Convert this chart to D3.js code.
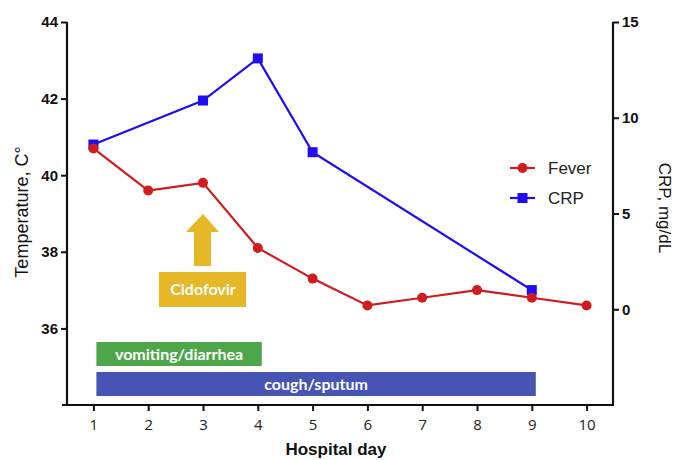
<!DOCTYPE html>
<html>
<head>
<meta charset="utf-8">
<script src="https://cdn.jsdelivr.net/npm/d3@7"></script>
<style>
  html, body { margin: 0; padding: 0; background: #fff; }
  svg { display: block; }
</style>
</head>
<body>
<svg id="chart" width="676" height="460"></svg>
<script>
// ---- data ----
const days = [1, 2, 3, 4, 5, 6, 7, 8, 9, 10];
const fever = [40.7, 39.6, 39.8, 38.1, 37.3, 36.6, 36.8, 37.0, 36.8, 36.6];
const crpDays = [1, 3, 4, 5, 9];
const crp = [8.6, 10.9, 13.1, 8.2, 1.0];
const tempTicks = [36, 38, 40, 42, 44];
const crpTicks = [0, 5, 10, 15];
const dayTicks = [1, 2, 3, 4, 5, 6, 7, 8, 9, 10];
const symptoms = ["vomiting/diarrhea", "cough/sputum"];
const symptomStart = [1, 1];
const symptomEnd = [4, 9];
const symptomColors = ["#4ea64a", "#4655b3"];
const treatment = "Cidofovir";
const treatmentDay = 3;
const seriesNames = ["Fever", "CRP"];
const seriesColors = ["#d01c1f", "#1d0cf5"];

// ---- layout ----
const svg = d3.select("#chart");
const pL = 67, pR = 613, pT = 22, pB = 405;
const SANS = "'Liberation Sans', Arial, Helvetica, sans-serif";

const x = d3.scaleLinear().domain([0.5, 10.5]).range([pL - 1, pR + 1]);
const yL = d3.scaleLinear().domain([34, 44]).range([pB, pT]);
const yR = d3.scaleLinear().domain([-5, 15]).range([pB, pT]);

// ---- axes ----
const gL = svg.append("g").attr("transform", `translate(${pL},0)`)
  .call(d3.axisLeft(yL).tickValues(tempTicks).tickSize(6).tickSizeOuter(0).tickPadding(3));
const gR = svg.append("g").attr("transform", `translate(${pR},0)`)
  .call(d3.axisRight(yR).tickValues(crpTicks).tickSize(6).tickSizeOuter(0).tickPadding(3));
const gB = svg.append("g").attr("transform", `translate(0,${pB})`)
  .call(d3.axisBottom(x).tickValues(dayTicks).tickSize(6).tickSizeOuter(0).tickPadding(8));

[gL, gR].forEach(g => {
  g.attr("font-family", SANS).attr("font-size", 15).attr("font-weight", 700);
  g.select(".domain").attr("d", `M0,${pT}V${pB}`);
  g.selectAll("text").attr("fill", "#111");
});
gB.attr("font-family", "'Open Sans', 'Noto Sans', sans-serif").attr("font-size", 15);
gB.select(".domain").attr("d", `M${pL - 5},0H${pR + 1}`);
gB.selectAll("text").attr("fill", "#222");
svg.selectAll(".domain").attr("stroke", "#111").attr("stroke-width", 2.2);
svg.selectAll(".tick line").attr("stroke", "#111").attr("stroke-width", 2);

// axis titles
svg.append("text")
  .attr("transform", `translate(28,212) rotate(-90)`)
  .attr("text-anchor", "middle")
  .attr("font-family", SANS).attr("font-size", 18)
  .attr("fill", "#111")
  .text("Temperature, C°");

svg.append("text")
  .attr("transform", `translate(659,208) rotate(90)`)
  .attr("text-anchor", "middle")
  .attr("font-family", SANS).attr("font-size", 17)
  .attr("fill", "#111")
  .text("CRP, mg/dL");

svg.append("text")
  .attr("x", (pL + pR) / 2 - 4)
  .attr("y", 455)
  .attr("text-anchor", "middle")
  .attr("font-family", SANS).attr("font-size", 17).attr("font-weight", 700)
  .attr("fill", "#111")
  .text("Hospital day");

// ---- symptom bars ----
const barTops = [342, 372];
symptoms.forEach((s, i) => {
  const x0 = x(symptomStart[i]) + 3;
  const x1 = x(symptomEnd[i]) + 4;
  svg.append("rect")
    .attr("x", x0).attr("y", barTops[i])
    .attr("width", x1 - x0).attr("height", 24)
    .attr("fill", symptomColors[i]);
  svg.append("text")
    .attr("x", (x0 + x1) / 2).attr("y", barTops[i] + 18)
    .attr("text-anchor", "middle")
    .attr("font-family", "Lato, 'Open Sans', sans-serif").attr("font-size", 16).attr("font-weight", 700)
    .attr("fill", "#fff")
    .text(s);
});

// ---- treatment arrow & label ----
const ax = x(treatmentDay);
svg.append("path")
  .attr("d", `M${ax},214 L${ax + 16},232 L${ax + 8},232 L${ax + 8},266 L${ax - 9},266 L${ax - 9},232 L${ax - 17},232 Z`)
  .attr("fill", "#e6b726");
svg.append("rect")
  .attr("x", ax - 44).attr("y", 272).attr("width", 87).attr("height", 35)
  .attr("fill", "#e6b726");
svg.append("text")
  .attr("x", ax).attr("y", 295)
  .attr("text-anchor", "middle")
  .attr("font-family", "Lato, 'Open Sans', sans-serif").attr("font-size", 16).attr("font-weight", 700)
  .attr("fill", "#fff")
  .text(treatment);

// ---- series ----
const feverData = days.map((d, i) => ({ d, v: fever[i] }));
const crpData = crpDays.map((d, i) => ({ d, v: crp[i] }));

svg.append("path")
  .datum(crpData)
  .attr("fill", "none")
  .attr("stroke", seriesColors[1])
  .attr("stroke-width", 2.2)
  .attr("d", d3.line().x(p => x(p.d)).y(p => yR(p.v)));
svg.selectAll(".crp").data(crpData).enter().append("rect")
  .attr("x", p => x(p.d) - 5).attr("y", p => yR(p.v) - 5)
  .attr("width", 10).attr("height", 10)
  .attr("fill", seriesColors[1]);

svg.append("path")
  .datum(feverData)
  .attr("fill", "none")
  .attr("stroke", seriesColors[0])
  .attr("stroke-width", 2.2)
  .attr("d", d3.line().x(p => x(p.d)).y(p => yL(p.v)));
svg.selectAll(".fev").data(feverData).enter().append("circle")
  .attr("cx", p => x(p.d)).attr("cy", p => yL(p.v))
  .attr("r", 5)
  .attr("fill", seriesColors[0]);

// ---- legend ----
const legY = [168, 198];
seriesNames.forEach((n, i) => {
  svg.append("line")
    .attr("x1", 510).attr("x2", 535)
    .attr("y1", legY[i]).attr("y2", legY[i])
    .attr("stroke", seriesColors[i]).attr("stroke-width", 2.2);
  if (i === 0) {
    svg.append("circle").attr("cx", 522.5).attr("cy", legY[i]).attr("r", 5).attr("fill", seriesColors[i]);
  } else {
    svg.append("rect").attr("x", 517.5).attr("y", legY[i] - 5).attr("width", 10).attr("height", 10).attr("fill", seriesColors[i]);
  }
  svg.append("text")
    .attr("x", 548).attr("y", legY[i] + 6)
    .attr("font-family", SANS).attr("font-size", 17)
    .attr("fill", "#222")
    .text(n);
});
</script>
</body>
</html>
